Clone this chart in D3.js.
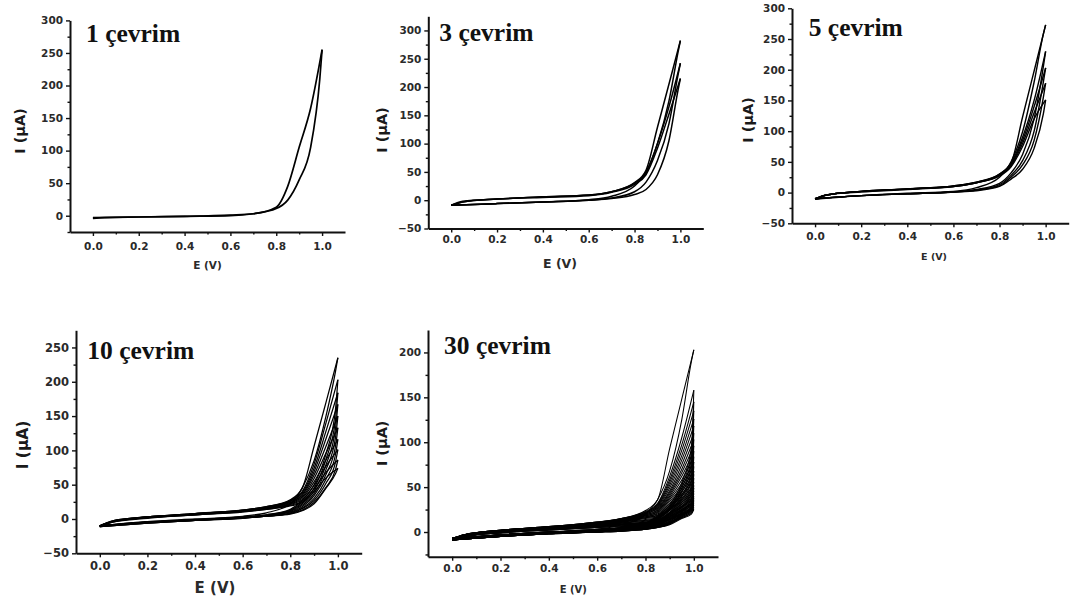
<!DOCTYPE html>
<html><head><meta charset="utf-8">
<script src="https://cdn.jsdelivr.net/npm/d3@7"></script>
<style>html,body{margin:0;padding:0;background:#fff;}svg{display:block;}</style>
</head><body>
<svg id="c" width="1076" height="602"></svg>
<script>
// ---------- DATA ----------
const E_FWD = [0, 0.05, 0.2, 0.4, 0.6, 0.7, 0.8, 0.85, 0.9, 0.95, 1.0];
const E_REV = [1.0, 0.99, 0.95, 0.9, 0.85, 0.8, 0.7, 0.6, 0.4, 0.2, 0];
const X_TICKS = [0, 0.2, 0.4, 0.6, 0.8, 1.0];
const X_MINOR = [0.1, 0.3, 0.5, 0.7, 0.9];
const TITLES = ["1 çevrim", "3 çevrim", "5 çevrim", "10 çevrim", "30 çevrim"];
const Y_TICKS_1 = [0, 50, 100, 150, 200, 250, 300];
const Y_TICKS_2 = [-50, 0, 50, 100, 150, 200, 250, 300];
const Y_TICKS_3 = [-50, 0, 50, 100, 150, 200, 250, 300];
const Y_TICKS_4 = [-50, 0, 50, 100, 150, 200, 250];
const Y_TICKS_5 = [0, 50, 100, 150, 200];

// 1 cycle
const P1_FWD = [[-4, -3, -2, -1, 1, 3, 13, 45, 105, 165, 255]];
const P1_REV = [[255, 210, 105, 55, 24, 11, 3, 0, -1, -2, -3]];

// 3 cycles
const P2_FWD = [
  [-9, -2, 2, 6, 9, 15, 31, 53, 129, 205, 282],
  [-9, -3, 2, 6, 9, 15, 30, 48, 100, 165, 242],
  [-9, -3, 2, 5, 8, 14, 28, 45, 92, 152, 215]
];
const P2_REV = [
  [282, 262, 175, 100, 50, 25, 7, 1, -3, -6, -9],
  [242, 222, 135, 70, 32, 15, 4, 0, -3, -6, -9],
  [215, 195, 105, 45, 19, 10, 3, 0, -3, -6, -9]
];

// 5 cycles
const P3_FWD = [
  [-11, -4, 1, 5, 10, 16, 30, 48, 123, 198, 273],
  [-11, -4, 2, 6, 11, 17, 30, 48, 90, 150, 230],
  [-10, -4, 2, 6, 11, 17, 29, 46, 85, 140, 203],
  [-10, -4, 2, 6, 10, 16, 28, 44, 80, 130, 178],
  [-10, -4, 2, 6, 10, 16, 27, 42, 75, 120, 151]
];
const P3_REV = [
  [273, 258, 180, 99, 50, 25, 8, 2, -1, -5, -11],
  [230, 205, 120, 62, 32, 15, 5, 1, -2, -5, -10],
  [203, 180, 100, 52, 28, 13, 4, 1, -2, -5, -10],
  [178, 155, 85, 45, 25, 11, 4, 1, -2, -5, -10],
  [151, 128, 72, 38, 22, 10, 3, 1, -2, -5, -10]
];

// 10 cycles
const P4_FWD = [
  [-10, -3, 3, 8, 13, 18, 28, 45, 106, 170, 235],
  [-10, -3, 3, 8, 13, 18, 27, 40, 80, 140, 203],
  [-10, -4, 3, 8, 13, 17, 26, 38, 74, 128, 184],
  [-10, -4, 3, 7, 12, 17, 25, 36, 69, 117, 167],
  [-10, -4, 2, 7, 12, 16, 24, 34, 64, 106, 150],
  [-10, -4, 2, 7, 12, 16, 23, 32, 59, 96, 133],
  [-10, -4, 2, 7, 11, 15, 22, 30, 54, 86, 116],
  [-11, -4, 2, 6, 11, 15, 21, 28, 49, 77, 101],
  [-11, -5, 2, 6, 11, 14, 20, 26, 44, 68, 86],
  [-11, -5, 1, 6, 10, 14, 19, 24, 40, 60, 74]
];
const P4_REV = [
  [235, 215, 150, 85, 45, 22, 9, 4, 0, -4, -10],
  [203, 160, 95, 50, 27, 14, 6, 3, -1, -4, -10],
  [184, 145, 87, 45, 24, 13, 6, 3, -1, -5, -10],
  [167, 132, 79, 41, 22, 12, 5, 2, -1, -5, -10],
  [150, 119, 72, 37, 20, 11, 5, 2, -1, -5, -10],
  [133, 106, 65, 34, 18, 10, 5, 2, -2, -5, -10],
  [116, 94, 58, 30, 16, 9, 4, 2, -2, -5, -11],
  [101, 83, 52, 27, 15, 8, 4, 2, -2, -6, -11],
  [86, 72, 46, 24, 13, 8, 4, 1, -2, -6, -11],
  [74, 66, 45, 22, 12, 7, 4, 1, -2, -6, -11]
];

// 30 cycles
const P5_FWD = [
  [-7, -3, 2, 6, 11, 15, 24, 36, 93, 148, 203],
  [-7, -3, 2, 6, 11, 15, 23, 32, 62, 105, 158],
  [-7, -3, 2, 6, 11, 15, 22, 31, 58, 97, 145],
  [-7, -3, 2, 6, 10, 14, 22, 30, 55, 91, 135],
  [-7, -3, 2, 5, 10, 14, 21, 29, 52, 85, 126],
  [-7, -3, 2, 5, 10, 14, 21, 28, 49, 80, 118],
  [-8, -4, 1, 5, 10, 14, 20, 27, 46, 75, 110],
  [-8, -4, 1, 5, 10, 13, 20, 26, 44, 70, 103],
  [-8, -4, 1, 5, 9, 13, 19, 25, 42, 66, 96],
  [-8, -4, 1, 5, 9, 13, 19, 24, 40, 62, 90],
  [-8, -4, 1, 5, 9, 13, 18, 23, 38, 58, 84],
  [-8, -4, 1, 4, 9, 12, 18, 22, 36, 54, 78],
  [-8, -4, 1, 4, 9, 12, 17, 21, 34, 51, 73],
  [-8, -4, 1, 4, 8, 12, 17, 20, 32, 48, 68],
  [-8, -4, 1, 4, 8, 12, 16, 19, 30, 45, 64],
  [-8, -4, 0, 4, 8, 11, 16, 18, 29, 42, 60],
  [-9, -5, 0, 4, 8, 11, 15, 17, 27, 40, 56],
  [-9, -5, 0, 4, 8, 11, 14, 16, 26, 37, 52],
  [-9, -5, 0, 4, 7, 10, 13, 15, 25, 35, 49],
  [-9, -5, 0, 4, 7, 10, 13, 15, 24, 33, 46],
  [-9, -5, 0, 3, 7, 10, 12, 14, 22, 31, 43],
  [-9, -5, 0, 3, 7, 9, 11, 13, 21, 29, 40],
  [-9, -5, 0, 3, 7, 9, 11, 13, 20, 28, 38],
  [-9, -5, 0, 3, 6, 9, 10, 12, 19, 27, 36],
  [-9, -5, 0, 3, 6, 8, 10, 12, 18, 25, 34],
  [-9, -5, 0, 3, 6, 8, 9, 11, 17, 24, 32],
  [-9, -5, -1, 3, 6, 8, 9, 11, 16, 23, 30],
  [-9, -5, -1, 3, 5, 7, 8, 10, 15, 21, 28],
  [-9, -5, -1, 2, 5, 7, 8, 10, 14, 20, 26],
  [-9, -5, -1, 2, 5, 6, 7, 9, 14, 19, 25]
];
const P5_REV = [
  [203, 190, 125, 68, 36, 20, 8, 3, -1, -4, -7],
  [158, 95, 55, 30, 18, 10, 5, 3, 0, -3, -7],
  [145, 88, 52, 28, 17, 10, 5, 3, 0, -3, -7],
  [135, 82, 49, 27, 16, 9, 5, 3, 0, -3, -7],
  [126, 77, 46, 26, 15, 9, 4, 2, 0, -3, -7],
  [118, 72, 44, 25, 15, 9, 4, 2, 0, -3, -7],
  [110, 67, 41, 24, 14, 8, 4, 2, 0, -3, -8],
  [103, 63, 39, 22, 13, 8, 4, 2, 0, -3, -8],
  [96, 59, 37, 21, 13, 8, 4, 2, 0, -3, -8],
  [90, 56, 35, 20, 12, 7, 4, 2, -1, -4, -8],
  [84, 52, 33, 19, 12, 7, 3, 2, -1, -4, -8],
  [78, 49, 31, 18, 11, 7, 3, 2, -1, -4, -8],
  [73, 46, 29, 17, 10, 6, 3, 1, -1, -4, -8],
  [68, 43, 28, 16, 10, 6, 3, 1, -1, -4, -8],
  [64, 41, 26, 15, 9, 6, 3, 1, -1, -4, -8],
  [60, 38, 25, 14, 9, 5, 3, 1, -1, -4, -8],
  [56, 36, 24, 14, 8, 5, 3, 1, -1, -4, -9],
  [52, 34, 23, 13, 8, 5, 2, 1, -1, -4, -9],
  [49, 32, 22, 12, 8, 5, 2, 1, -1, -4, -9],
  [46, 31, 21, 12, 7, 4, 2, 1, -1, -4, -9],
  [43, 29, 20, 11, 7, 4, 2, 1, -1, -4, -9],
  [40, 28, 19, 11, 7, 4, 2, 1, -2, -5, -9],
  [38, 27, 19, 10, 6, 4, 2, 1, -2, -5, -9],
  [36, 26, 18, 10, 6, 4, 2, 0, -2, -5, -9],
  [34, 25, 18, 10, 6, 4, 2, 0, -2, -5, -9],
  [32, 24, 17, 10, 6, 3, 2, 0, -2, -5, -9],
  [30, 23, 17, 9, 6, 3, 1, 0, -2, -5, -9],
  [28, 22, 16, 9, 5, 3, 1, 0, -2, -5, -9],
  [26, 21, 16, 9, 5, 3, 1, 0, -2, -5, -9],
  [25, 20, 15, 8, 5, 3, 1, 0, -2, -5, -9]
];

// ---------- LAYOUT ----------
const panels = [
  {fwd: P1_FWD, rev: P1_REV, yTicks: Y_TICKS_1, yDomain: [-25, 300], left: 70, right: 345, top: 20.4, bottom: 232, sw: 1.7,
   tickFs: 10.5, xPad: 6.5, yLabFs: 14.5, yLab: [20, 131], xLabFs: 10.5, xLab: [207.5, 265], title: [86, 41.7]},
  {fwd: P2_FWD, rev: P2_REV, yTicks: Y_TICKS_2, yDomain: [-50, 325], left: 428.3, right: 703.3, top: 16.3, bottom: 228.5, sw: 1.5,
   tickFs: 10.5, xPad: 3.5, yLabFs: 14.5, yLab: [381.7, 130], xLabFs: 12.5, xLab: [560, 263], title: [439.3, 40.7]},
  {fwd: P3_FWD, rev: P3_REV, yTicks: Y_TICKS_3, yDomain: [-50, 300], left: 792, right: 1068.7, top: 8.3, bottom: 223.3, sw: 1.4,
   tickFs: 10.5, xPad: 5.5, yLabFs: 14.5, yLab: [747.7, 120], xLabFs: 9.5, xLab: [934, 256.7], title: [808.7, 36]},
  {fwd: P4_FWD, rev: P4_REV, yTicks: Y_TICKS_4, yDomain: [-50, 275], left: 76, right: 361.7, top: 330.3, bottom: 553.3, sw: 1.25,
   tickFs: 11.5, xPad: 5, yLabFs: 15.5, yLab: [23.3, 445], xLabFs: 15, xLab: [215, 588.3], title: [87.3, 359.3]},
  {fwd: P5_FWD, rev: P5_REV, yTicks: Y_TICKS_5, yDomain: [-27.5, 225], left: 428, right: 718, top: 330, bottom: 556.7, sw: 1.05,
   tickFs: 10.5, xPad: 3.5, yLabFs: 14.5, yLab: [381.7, 443.3], xLabFs: 10, xLab: [573.3, 589.3], title: [444, 353.5]}
];

const svg = d3.select("#c");
svg.append("rect").attr("width", 1076).attr("height", 602).attr("fill", "#fff");
const SANS = "'DejaVu Sans', Arial, sans-serif";

panels.forEach((p, i) => {
  const x = d3.scaleLinear().domain([-0.1, 1.1]).range([p.left, p.right]);
  const y = d3.scaleLinear().domain(p.yDomain).range([p.bottom, p.top]);
  const g = svg.append("g");

  // curves
  const line = d3.line().x(d => x(d[0])).y(d => y(d[1])).curve(d3.curveMonotoneX);
  const lg = g.append("g").attr("fill", "none").attr("stroke", "#000")
    .attr("stroke-width", p.sw).attr("stroke-linejoin", "round");
  p.fwd.forEach((cyc, k) => {
    lg.append("path").attr("d", line(E_FWD.map((e, j) => [e, cyc[j]])));
    const r = p.rev[k];
    const pts = E_REV.map((e, j) => [e, r[j]]).reverse();
    lg.append("path").attr("d", line(pts));
  });

  // minor ticks
  const yMinor = [];
  for (let k = 0; k < p.yTicks.length; k++) {
    const v = p.yTicks[k] + 25;
    if (v < p.yDomain[1]) yMinor.push(v);
  }
  if (p.yTicks[0] - 25 >= p.yDomain[0]) yMinor.push(p.yTicks[0] - 25);
  const xm = g.append("g").attr("transform", `translate(0,${p.bottom})`)
    .call(d3.axisBottom(x).tickValues(X_MINOR).tickSize(2.5).tickSizeOuter(0).tickFormat(""));
  xm.select(".domain").remove();
  const ym = g.append("g").attr("transform", `translate(${p.left},0)`)
    .call(d3.axisLeft(y).tickValues(yMinor).tickSize(2.5).tickSizeOuter(0).tickFormat(""));
  ym.select(".domain").remove();

  // major axes
  const xa = g.append("g").attr("transform", `translate(0,${p.bottom})`)
    .call(d3.axisBottom(x).tickValues(X_TICKS).tickSize(4).tickSizeOuter(0).tickPadding(p.xPad).tickFormat(d3.format(".1f")));
  const ya = g.append("g").attr("transform", `translate(${p.left},0)`)
    .call(d3.axisLeft(y).tickValues(p.yTicks).tickSize(4).tickSizeOuter(0).tickPadding(3).tickFormat(d3.format("d")));
  [xa, ya, xm, ym].forEach(a => {
    a.selectAll("line").attr("stroke", "#111").attr("stroke-width", 1.4);
    a.selectAll(".domain").attr("stroke", "#111").attr("stroke-width", 2);
    a.selectAll("text").attr("font-family", SANS).attr("font-weight", "bold")
      .attr("font-size", p.tickFs).attr("fill", "#2a2a2a");
  });

  // axis titles
  g.append("text").attr("transform", `translate(${p.yLab[0]},${p.yLab[1]}) rotate(-90)`)
    .attr("text-anchor", "middle").attr("dominant-baseline", "central")
    .attr("font-family", SANS).attr("font-weight", "bold").attr("font-size", p.yLabFs)
    .attr("fill", "#1a1a1a").text("I (μA)");
  g.append("text").attr("x", p.xLab[0]).attr("y", p.xLab[1])
    .attr("text-anchor", "middle").attr("dominant-baseline", "central")
    .attr("font-family", SANS).attr("font-weight", "bold").attr("font-size", p.xLabFs)
    .attr("fill", "#2a2a2a").text("E (V)");

  // panel title
  g.append("text").attr("x", p.title[0]).attr("y", p.title[1])
    .attr("font-family", "'Liberation Serif', 'Times New Roman', serif").attr("font-weight", "bold")
    .attr("font-size", 25.5).attr("fill", "#111").text(TITLES[i]);
});
</script>
</body></html>
